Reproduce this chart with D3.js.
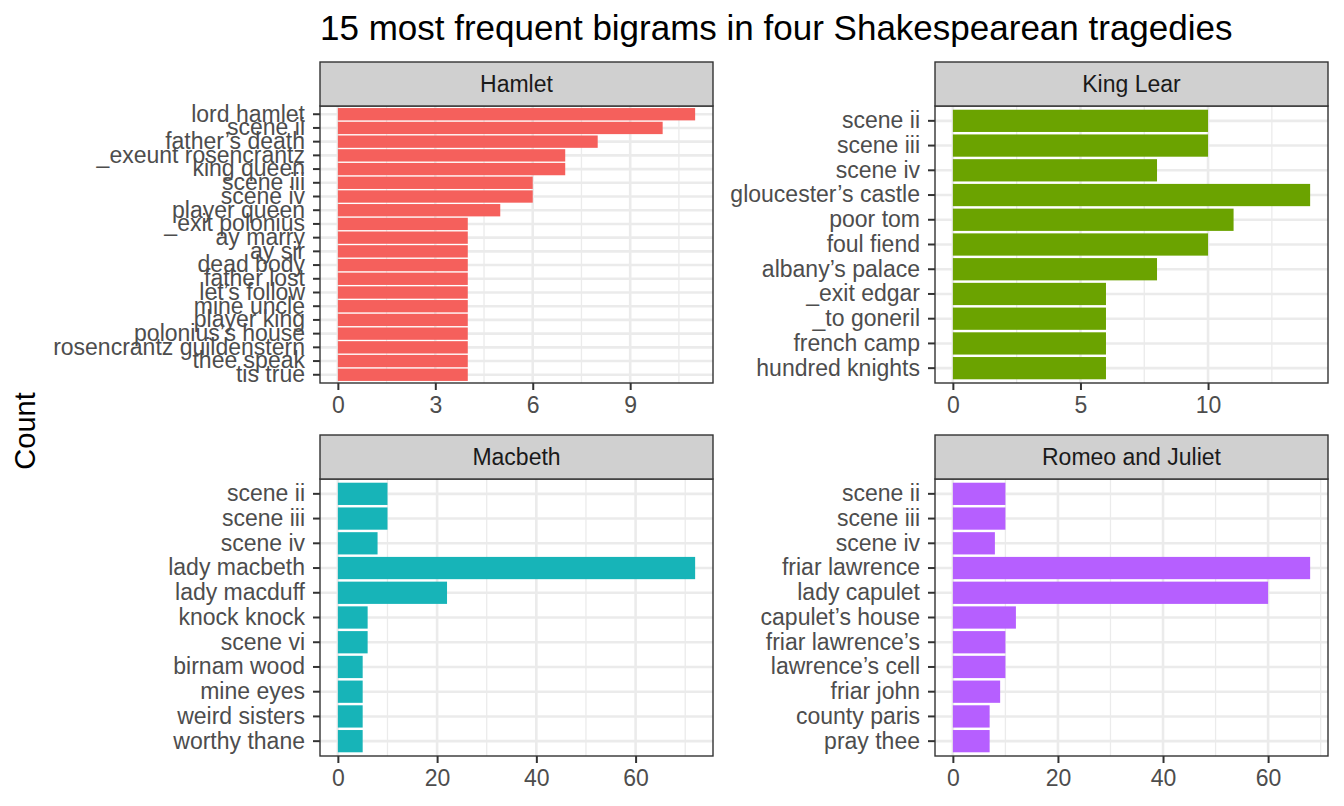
<!DOCTYPE html>
<meta charset="utf-8">
<script src="https://cdn.jsdelivr.net/npm/d3@7"></script>
<style>
body { margin: 0; background: #fff; }
svg { display: block; font-family: "Liberation Sans", Arial, sans-serif; }
.axis text { fill: #4D4D4D; font-size: 23px; }
.axis line { stroke: #333; stroke-width: 2px; }
.axis path { display: none; }
.strip text { fill: #1A1A1A; font-size: 23px; }
</style>
<body>
<div class="chart"></div>
<script>

// Data
var plays = ["Hamlet", "King Lear", "Macbeth", "Romeo and Juliet"];
var colors = ["#F5605C", "#6BA300", "#17B4B8", "#B65FFF"];

var hamletBigrams = ["lord hamlet", "scene ii", "father\u2019s death", "_exeunt rosencrantz", "king queen",
  "scene iii", "scene iv", "player queen", "_exit polonius", "ay marry", "ay sir", "dead body",
  "father lost", "let\u2019s follow", "mine uncle", "player king", "polonius\u2019s house",
  "rosencrantz guildenstern", "thee speak", "tis true"];
var hamletCounts = [11, 10, 8, 7, 7, 6, 6, 5, 4, 4, 4, 4, 4, 4, 4, 4, 4, 4, 4, 4];

var learBigrams = ["scene ii", "scene iii", "scene iv", "gloucester\u2019s castle", "poor tom", "foul fiend",
  "albany\u2019s palace", "_exit edgar", "_to goneril", "french camp", "hundred knights"];
var learCounts = [10, 10, 8, 14, 11, 10, 8, 6, 6, 6, 6];

var macbethBigrams = ["scene ii", "scene iii", "scene iv", "lady macbeth", "lady macduff", "knock knock",
  "scene vi", "birnam wood", "mine eyes", "weird sisters", "worthy thane"];
var macbethCounts = [10, 10, 8, 72, 22, 6, 6, 5, 5, 5, 5];

var romeoBigrams = ["scene ii", "scene iii", "scene iv", "friar lawrence", "lady capulet", "capulet\u2019s house",
  "friar lawrence\u2019s", "lawrence\u2019s cell", "friar john", "county paris", "pray thee"];
var romeoCounts = [10, 10, 8, 68, 60, 12, 10, 10, 9, 7, 7];

var hamletTicks = [0, 3, 6, 9];
var learTicks = [0, 5, 10];
var macbethTicks = [0, 20, 40, 60];
var romeoTicks = [0, 20, 40, 60];

var panels = [
  {name: plays[0], bigrams: hamletBigrams, counts: hamletCounts, ticks: hamletTicks, color: colors[0], col: 0, row: 0},
  {name: plays[1], bigrams: learBigrams, counts: learCounts, ticks: learTicks, color: colors[1], col: 1, row: 0},
  {name: plays[2], bigrams: macbethBigrams, counts: macbethCounts, ticks: macbethTicks, color: colors[2], col: 0, row: 1},
  {name: plays[3], bigrams: romeoBigrams, counts: romeoCounts, ticks: romeoTicks, color: colors[3], col: 1, row: 1}
];

// Layout
var width = 1344, height = 806,
    colX = [320, 935], panelW = 393,
    rowY = [62, 435], stripH = 44, panelH = 277;

var svg = d3.select(".chart").append("svg")
    .attr("width", width)
    .attr("height", height);

// Title
svg.append("text")
    .attr("x", 320)
    .attr("y", 40)
    .style("font-size", "35px")
    .style("fill", "#000")
    .text("15 most frequent bigrams in four Shakespearean tragedies");

// Y axis title
svg.append("text")
    .attr("transform", "translate(35,431) rotate(-90)")
    .attr("text-anchor", "middle")
    .style("font-size", "29px")
    .style("fill", "#000")
    .text("Count");

panels.forEach(function(p) {
  var x0 = colX[p.col], y0 = rowY[p.row] + stripH;
  var g = svg.append("g").attr("transform", "translate(" + x0 + "," + y0 + ")");

  var maxV = d3.max(p.counts);
  var x = d3.scaleLinear()
      .domain([-0.05 * maxV, 1.05 * maxV])
      .range([0, panelW]);
  var y = d3.scaleBand()
      .domain(p.bigrams)
      .range([0, panelH])
      .paddingInner(0.1)
      .paddingOuter(0.15);

  // minor grid at tick midpoints
  var step = p.ticks[1] - p.ticks[0];
  var minor = [];
  for (var v = step / 2; v <= 1.05 * maxV; v += step) minor.push(v);

  g.append("rect")
      .attr("width", panelW).attr("height", panelH)
      .attr("fill", "#fff");

  g.selectAll(".minor")
      .data(minor)
      .enter().append("line")
      .attr("x1", function(d) { return x(d); })
      .attr("x2", function(d) { return x(d); })
      .attr("y1", 0).attr("y2", panelH)
      .attr("stroke", "#EBEBEB").attr("stroke-width", 1.3);

  g.selectAll(".vmajor")
      .data(p.ticks)
      .enter().append("line")
      .attr("x1", function(d) { return x(d); })
      .attr("x2", function(d) { return x(d); })
      .attr("y1", 0).attr("y2", panelH)
      .attr("stroke", "#EBEBEB").attr("stroke-width", 2.6);

  g.selectAll(".hmajor")
      .data(p.bigrams)
      .enter().append("line")
      .attr("x1", 0).attr("x2", panelW)
      .attr("y1", function(d) { return y(d) + y.bandwidth() / 2; })
      .attr("y2", function(d) { return y(d) + y.bandwidth() / 2; })
      .attr("stroke", "#EBEBEB").attr("stroke-width", 2.6);

  // bars
  g.selectAll(".bar")
      .data(p.bigrams)
      .enter().append("rect")
      .attr("x", x(0))
      .attr("y", function(d) { return y(d); })
      .attr("width", function(d, i) { return x(p.counts[i]) - x(0); })
      .attr("height", y.bandwidth())
      .attr("fill", p.color);

  // panel border
  g.append("rect")
      .attr("width", panelW).attr("height", panelH)
      .attr("fill", "none")
      .attr("stroke", "#333").attr("stroke-width", 1.4);

  // strip
  var s = svg.append("g").attr("class", "strip")
      .attr("transform", "translate(" + x0 + "," + rowY[p.row] + ")");
  s.append("rect")
      .attr("width", panelW).attr("height", stripH)
      .attr("fill", "#D0D0D0")
      .attr("stroke", "#333").attr("stroke-width", 1.4);
  s.append("text")
      .attr("x", panelW / 2)
      .attr("y", stripH / 2 + 8)
      .attr("text-anchor", "middle")
      .text(p.name);

  // axes
  g.append("g")
      .attr("class", "axis")
      .attr("transform", "translate(0," + panelH + ")")
      .call(d3.axisBottom(x).tickValues(p.ticks).tickSize(7).tickPadding(7).tickFormat(d3.format("d")));

  g.append("g")
      .attr("class", "axis")
      .call(d3.axisLeft(y).tickSize(7).tickPadding(8));
});

</script>
</body>
</html>
